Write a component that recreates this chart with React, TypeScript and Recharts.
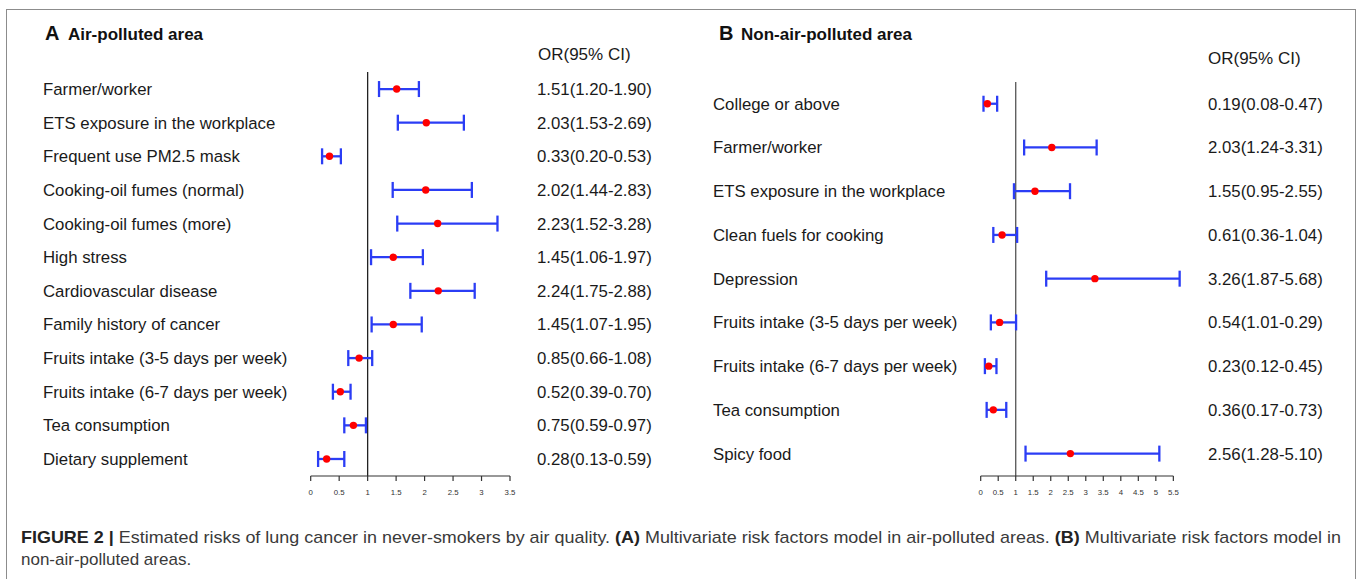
import * as React from 'react';
import { ScatterChart, Scatter, XAxis, YAxis, ErrorBar, ReferenceLine } from 'recharts';

const FONT = '"Liberation Sans", Arial, Helvetica, sans-serif';

// Panel A: air-polluted area
const aLabels = [
  'Farmer/worker',
  'ETS exposure in the workplace',
  'Frequent use PM2.5 mask',
  'Cooking-oil fumes (normal)',
  'Cooking-oil fumes (more)',
  'High stress',
  'Cardiovascular disease',
  'Family history of cancer',
  'Fruits intake (3-5 days per week)',
  'Fruits intake (6-7 days per week)',
  'Tea consumption',
  'Dietary supplement',
];
const aOr = [1.51, 2.03, 0.33, 2.02, 2.23, 1.45, 2.24, 1.45, 0.85, 0.52, 0.75, 0.28];
const aLow = [1.2, 1.53, 0.2, 1.44, 1.52, 1.06, 1.75, 1.07, 0.66, 0.39, 0.59, 0.13];
const aHigh = [1.9, 2.69, 0.53, 2.83, 3.28, 1.97, 2.88, 1.95, 1.08, 0.7, 0.97, 0.59];
const aCiText = [
  '1.51(1.20-1.90)',
  '2.03(1.53-2.69)',
  '0.33(0.20-0.53)',
  '2.02(1.44-2.83)',
  '2.23(1.52-3.28)',
  '1.45(1.06-1.97)',
  '2.24(1.75-2.88)',
  '1.45(1.07-1.95)',
  '0.85(0.66-1.08)',
  '0.52(0.39-0.70)',
  '0.75(0.59-0.97)',
  '0.28(0.13-0.59)',
];
const aTicks = [0, 0.5, 1, 1.5, 2, 2.5, 3, 3.5];

// Panel B: non-air-polluted area
const bLabels = [
  'College or above',
  'Farmer/worker',
  'ETS exposure in the workplace',
  'Clean fuels for cooking',
  'Depression',
  'Fruits intake (3-5 days per week)',
  'Fruits intake (6-7 days per week)',
  'Tea consumption',
  'Spicy food',
];
const bOr = [0.19, 2.03, 1.55, 0.61, 3.26, 0.54, 0.23, 0.36, 2.56];
const bLow = [0.08, 1.24, 0.95, 0.36, 1.87, 0.29, 0.12, 0.17, 1.28];
const bHigh = [0.47, 3.31, 2.55, 1.04, 5.68, 1.01, 0.45, 0.73, 5.1];
const bCiText = [
  '0.19(0.08-0.47)',
  '2.03(1.24-3.31)',
  '1.55(0.95-2.55)',
  '0.61(0.36-1.04)',
  '3.26(1.87-5.68)',
  '0.54(1.01-0.29)',
  '0.23(0.12-0.45)',
  '0.36(0.17-0.73)',
  '2.56(1.28-5.10)',
];
const bTicks = [0, 0.5, 1, 1.5, 2, 2.5, 3, 3.5, 4, 4.5, 5, 5.5];

function buildRows(labels: string[], or: number[], low: number[], high: number[], text: string[]) {
  return labels.map((label, i) => ({
    idx: i,
    or: or[i],
    err: [or[i] - low[i], high[i] - or[i]],
    label,
    text: text[i],
  }));
}

type Row = ReturnType<typeof buildRows>[number];

interface PanelProps {
  rows: Row[];
  left: number;
  width: number;
  top: number;
  yAxisWidth: number;
  plotWidth: number;
  yDomain: [number, number];
  xDomain: [number, number];
  xTicks: number[];
  labelX: number;
  ciX: number;
  refStroke: string;
  axisEnd?: number; // draw the axis line only up to this value
}

function ForestPanel(p: PanelProps) {
  const height = 510;
  const marginRight = p.width - p.yAxisWidth - p.plotWidth;
  const rowTicks = p.rows.map(r => r.idx);

  const renderTick = (t: any) => {
    const row = p.rows[t.payload.value];
    if (!row) return null;
    return (
      <g>
        <text x={p.labelX} y={t.y} dy={6} fontSize={16.8} fill="#1a1a1a" fontFamily={FONT}>
          {row.label}
        </text>
        <text x={p.ciX} y={t.y} dy={6} fontSize={16.8} fill="#1a1a1a" fontFamily={FONT}>
          {row.text}
        </text>
      </g>
    );
  };

  return (
    <div style={{ position: 'absolute', left: p.left, top: 0 }}>
      <ScatterChart
        width={p.width}
        height={height}
        margin={{ top: p.top, right: marginRight, bottom: 4, left: 0 }}
      >
        <XAxis
          type="number"
          dataKey="or"
          domain={p.xDomain}
          ticks={p.xTicks}
          interval={0}
          height={30}
          axisLine={p.axisEnd === undefined ? { stroke: '#333', strokeWidth: 1.2 } : false}
          tickLine={{ stroke: '#333', strokeWidth: 1.2 }}
          tickSize={5}
          tickMargin={8}
          tick={{ fontSize: 7.8, fill: '#333', fontFamily: FONT }}
        />
        <YAxis
          type="number"
          dataKey="idx"
          domain={p.yDomain}
          reversed
          ticks={rowTicks}
          interval={0}
          width={p.yAxisWidth}
          axisLine={false}
          tickLine={false}
          tick={renderTick}
        />
        <ReferenceLine x={1} stroke={p.refStroke} strokeWidth={1.3} />
        {p.axisEnd !== undefined && (
          <ReferenceLine
            segment={[
              { x: p.xDomain[0], y: p.yDomain[1] },
              { x: p.axisEnd, y: p.yDomain[1] },
            ]}
            stroke="#333"
            strokeWidth={1.2}
          />
        )}
        <Scatter
          data={p.rows}
          isAnimationActive={false}
          shape={(s: any) => <circle cx={s.cx} cy={s.cy} r={3.7} fill="#ff0000" />}
        >
          <ErrorBar
            dataKey="err"
            direction="x"
            width={8}
            stroke="#2b3df5"
            strokeWidth={2.3}
            isAnimationActive={false}
          />
        </Scatter>
      </ScatterChart>
    </div>
  );
}

export default function App() {
  const aRows = buildRows(aLabels, aOr, aLow, aHigh, aCiText);
  const bRows = buildRows(bLabels, bOr, bLow, bHigh, bCiText);

  return (
    <div style={{ position: 'absolute', left: 0, top: 0, width: 1357, height: 579, background: '#fff', overflow: 'hidden', fontFamily: FONT }}>
      <div style={{ position: 'absolute', left: 6, top: 9, width: 1348, height: 640, border: '1px solid #8c8c8c' }} />

      <ForestPanel
        rows={aRows}
        left={0}
        width={680}
        top={72}
        yAxisWidth={310.7}
        plotWidth={199.3}
        yDomain={[-0.507, 11.506]}
        xDomain={[0, 3.5]}
        xTicks={aTicks}
        labelX={43}
        ciX={537}
        refStroke="#222"
      />
      <ForestPanel
        rows={bRows}
        left={680}
        width={677}
        top={82}
        yAxisWidth={300.7}
        plotWidth={201.4}
        yDomain={[-0.497, 8.512]}
        xDomain={[0, 5.75]}
        xTicks={bTicks}
        axisEnd={5.5}
        labelX={33}
        ciX={528}
        refStroke="#555"
      />

      <svg width={1357} height={579} style={{ position: 'absolute', left: 0, top: 0, pointerEvents: 'none' }}>
        <text x={45} y={40} fontFamily={FONT} fill="#111">
          <tspan fontSize={20} fontWeight="bold">A</tspan>
          <tspan x={68} fontSize={17} fontWeight="bold">Air-polluted area</tspan>
        </text>
        <text x={538} y={60} fontSize={17} fontFamily={FONT} fill="#1a1a1a">OR(95% CI)</text>

        <text x={719} y={40} fontFamily={FONT} fill="#111">
          <tspan fontSize={20} fontWeight="bold">B</tspan>
          <tspan x={741} fontSize={17} fontWeight="bold">Non-air-polluted area</tspan>
        </text>
        <text x={1208} y={64} fontSize={17} fontFamily={FONT} fill="#1a1a1a">OR(95% CI)</text>

        <text
          x={21}
          y={543}
          fontSize={17}
          fontFamily={FONT}
          fill="#3a3a3a"
          textLength={1320}
          lengthAdjust="spacingAndGlyphs"
        >
          <tspan fontWeight="bold" fill="#222">FIGURE 2 |</tspan>
          <tspan> Estimated risks of lung cancer in never-smokers by air quality. </tspan>
          <tspan fontWeight="bold" fill="#222">(A)</tspan>
          <tspan> Multivariate risk factors model in air-polluted areas. </tspan>
          <tspan fontWeight="bold" fill="#222">(B)</tspan>
          <tspan> Multivariate risk factors model in</tspan>
        </text>
        <text x={21} y={565} fontSize={17} fontFamily={FONT} fill="#3a3a3a">
          non-air-polluted areas.
        </text>
      </svg>
    </div>
  );
}
